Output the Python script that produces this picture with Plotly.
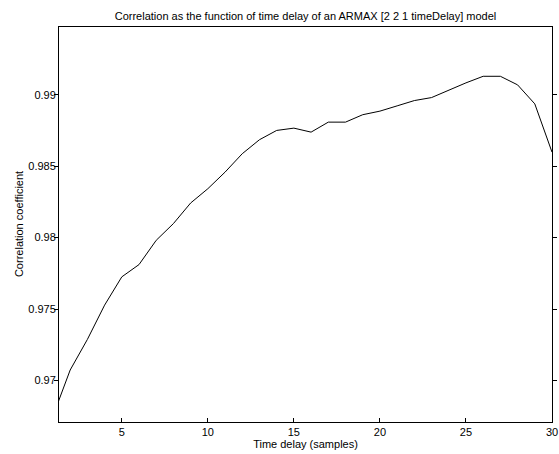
import plotly.graph_objects as go

# Time delays (samples) and the correlation coefficient
time_delay = list(range(1, 31))
correlation = [
    0.96751, 0.97073, 0.97287, 0.97527, 0.97725, 0.97811, 0.97981, 0.98098,
    0.98242, 0.98342, 0.98458, 0.98587, 0.98685, 0.98750, 0.98766, 0.98738,
    0.98808, 0.98808, 0.98860, 0.98885, 0.98922, 0.98959, 0.98980, 0.99034,
    0.99083, 0.99129, 0.99129, 0.99069, 0.98936, 0.98598,
]

x_ticks = [5, 10, 15, 20, 25, 30]
y_ticks = [0.97, 0.975, 0.98, 0.985, 0.99]
y_tick_labels = ["0.97", "0.975", "0.98", "0.985", "0.99"]

fig = go.Figure()
fig.add_trace(go.Scatter(
    x=time_delay,
    y=correlation,
    mode="lines",
    line=dict(color="black", width=1),
    showlegend=False,
))

font = dict(family="Liberation Sans, Arial, sans-serif", size=11, color="black")

fig.update_layout(
    width=559,
    height=454,
    margin=dict(l=59, r=2, t=27, b=32),
    paper_bgcolor="white",
    plot_bgcolor="white",
    font=font,
    title=dict(
        text="Correlation as the function of time delay of an ARMAX [2 2 1 timeDelay] model",
        x=0.5, xref="paper", xanchor="center",
        y=1, yref="container", yanchor="top", pad=dict(t=12),
        font=font,
    ),
)

fig.update_xaxes(
    range=[1.35, 30],
    tickvals=x_ticks,
    ticks="inside",
    ticklen=4,
    tickcolor="black",
    showline=True,
    linecolor="black",
    linewidth=1,
    mirror=True,
    showgrid=False,
    zeroline=False,
    title=dict(text="Time delay (samples)", standoff=2, font=font),
)

fig.update_yaxes(
    range=[0.96709, 0.99474],
    tickvals=y_ticks,
    ticktext=y_tick_labels,
    ticks="outside",
    ticklen=4,
    tickcolor="black",
    ticklabelstandoff=-4,
    showline=True,
    linecolor="black",
    linewidth=1,
    mirror="ticks",
    showgrid=False,
    zeroline=False,
)

# y-axis title placed as rotated text left of the tick labels
fig.add_annotation(
    text="Correlation coefficient",
    xref="paper", yref="paper",
    x=-0.082, y=0.5,
    xanchor="center", yanchor="middle",
    textangle=-90,
    showarrow=False,
    font=font,
)

# remove the default page margin so the figure sits at the window's corner
fig.write_html(
    "out.html",
    config={"displayModeBar": False},
    post_script="document.body.style.margin='0';document.body.style.overflow='hidden';",
)
